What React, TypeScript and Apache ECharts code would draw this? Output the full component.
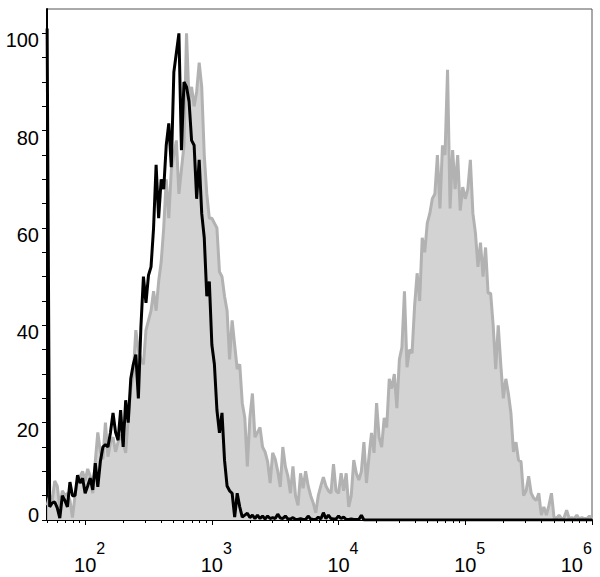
import React, { useEffect, useRef } from "react";
import * as echarts from "echarts";

// Histogram bins on a log10 channel axis
const BIN_START = 1.7; // log10 of the first bin
const BIN_STEP = 0.02; // decades per bin
const X_MIN = Math.log10(50);
const X_MAX = 6;

const DECADE_TICKS = [2, 3, 4, 5, 6];
const Y_LABELS = [0, 20, 40, 60, 80, 100];
const Y_TICKS = [0, 5, 10, 15, 20, 25, 30, 35, 40, 45, 50, 55, 60, 65, 70, 75, 80, 85, 90, 95, 100];

// gray filled histogram (% of max)
const grayCounts = [
  3, 5, 4, 8, 7, 2.5, 6, 5, 5.5, 4,
  0.5, 5, 8, 9, 10, 8, 10.5, 9, 5.5, 12,
  18, 14, 12.5, 20, 13, 16, 17, 14, 16, 17.5,
  16, 13.8, 21, 27, 30, 39, 35, 33, 32, 39,
  41, 43, 47, 43, 49, 53, 60, 70, 62, 72,
  75, 78, 67, 72, 77, 100, 86, 89, 85, 88,
  94, 89, 75, 67, 62, 62, 61, 60, 51, 50,
  46, 43, 33, 41, 36, 31, 32, 24, 21, 11,
  21, 26, 17, 18, 19, 15, 14, 12, 7.6, 13.8,
  12.5, 10, 6.8, 15, 11, 9, 5.5, 11, 5, 3,
  9.6, 6.5, 10, 7, 5, 3.5, 1.5, 5, 7, 8.8,
  7, 6, 5.5, 11.5, 6, 5.5, 9.6, 6, 9.6, 2.7,
  5, 12.3, 9.6, 8.2, 10, 16, 7.6, 13, 17.9, 13.8,
  24, 17, 15, 21, 19, 29, 27, 30, 23, 33,
  35.5, 47, 31.4, 35, 34.3, 44, 50.7, 45, 58, 55,
  61, 63, 66, 67, 75, 64, 77, 75, 92.5, 64,
  76, 68, 75, 63.6, 68.4, 66, 68, 74, 63, 59,
  52, 57, 50, 56, 46.6, 46.6, 40, 31, 40, 32,
  25, 29, 26, 22, 14, 16, 12.3, 12, 5, 6,
  9, 5.5, 4.5, 4, 5.5, 1, 2.7, 1, 3, 5.5,
  0.6, 0.3, 1, 0.3, 0.5, 2, 0.3, 0.5, 0.3, 1,
  0.2, 0.5, 0.3, 0.3, 0.8, 0.3,
];

// black outline histogram (% of max)
const blackCounts = [
  101, 2.7, 3.5, 3.7, 2.5, 0.4, 5, 4, 2.7, 7.8,
  5, 5, 9.2, 7.6, 8.6, 5.5, 7, 8.6, 6.2, 11.7,
  6.8, 12, 15, 15.5, 15, 18, 22, 18, 16.4, 22.6,
  15, 24.6, 20, 29, 32, 34, 25, 39.6, 50, 44.6,
  50.3, 52, 60, 73, 62, 70, 68, 77, 81.5, 72.5,
  92, 96, 100, 76, 90, 89, 86, 78, 77, 66,
  74, 63, 58, 46, 49, 36, 32, 22.6, 17.9, 22,
  12.3, 7, 6, 5.5, 0.6, 5.5, 2.7, 0.6, 1, 1.4,
  0.5, 1, 0.3, 1, 0.3, 0.8, 0.2, 0.8, 0.3, 0.5,
  0.3, 1.2, 0.4, 0.3, 0.8, 0.2, 0.2, 0.5, 0.1, 0.1,
  0.3, 0.1, 0.1, 0.8, 0.2, 0.1, 0.1, 0.6, 0.2, 1.5,
  0.3, 1, 0.3, 0.2, 0.2, 0.8, 0.3, 0.6, 0.1, 0.1,
  0.2, 0.1, 0.1, 0.1, 1, 0, 0, 0, 0, 0,
  0, 0, 0, 0, 0, 0, 0, 0, 0, 0,
  0, 0, 0, 0, 0, 0, 0, 0, 0, 0,
  0, 0, 0, 0, 0, 0, 0, 0, 0, 0,
  0, 0, 0, 0, 0, 0, 0, 0, 0, 0,
  0, 0, 0, 0, 0, 0, 0, 0, 0, 0,
  0, 0, 0, 0, 0, 0, 0, 0, 0, 0,
  0, 0, 0, 0, 0, 0, 0, 0, 0, 0,
  0, 0, 0, 0, 0, 0, 0, 0, 0, 0,
  0, 0, 0, 0, 0, 0,
];

const FONT = "'Liberation Sans', Arial, sans-serif";

function minorTicks(): number[] {
  const out: number[] = [];
  for (let d = 1; d <= 5; d++) {
    for (let k = 2; k <= 9; k++) {
      const v = Math.log10(k * Math.pow(10, d));
      if (v >= X_MIN - 1e-9 && v <= X_MAX) out.push(v);
    }
  }
  return out;
}

const toPoints = (arr: number[]) => arr.map((c, i) => [BIN_START + i * BIN_STEP, c]);

export default function App() {
  const ref = useRef<HTMLDivElement>(null);
  useEffect(() => {
    if (!ref.current) return;
    const chart = echarts.init(ref.current, null, { renderer: "svg" });
    const option: any = {
      animation: false,
      backgroundColor: "#fff",
      grid: {
        left: 47,
        right: 8,
        top: 9,
        bottom: 57,
        show: true,
        borderColor: "#555",
        borderWidth: 1,
        containLabel: false,
        outerBoundsMode: "none",
      },
      xAxis: [
        {
          type: "value",
          min: X_MIN,
          max: X_MAX,
          position: "bottom",
          axisLine: { show: true, onZero: false, lineStyle: { color: "#000", width: 2 } },
          axisTick: { show: true, length: 5, customValues: DECADE_TICKS, lineStyle: { color: "#000", width: 1 } },
          axisLabel: {
            customValues: DECADE_TICKS,
            margin: 21,
            color: "#000",
            fontFamily: FONT,
            verticalAlign: "top",
            alignMaxLabel: "right",
            formatter: (v: number) => `{a|}{s|${Math.round(v)}}\n{c|}{b|10}{d|}`,
            rich: {
              a: { width: 31, height: 14, lineHeight: 14 },
              s: { fontSize: 16, lineHeight: 14, fontFamily: FONT, color: "#000" },
              c: { width: 9, height: 20, lineHeight: 20 },
              d: { width: 9, height: 20, lineHeight: 20 },
              b: { fontSize: 20, lineHeight: 20, fontFamily: FONT, color: "#000" },
            },
          },
          splitLine: { show: false },
        },
        {
          type: "value",
          min: X_MIN,
          max: X_MAX,
          position: "bottom",
          axisLine: { show: false, onZero: false },
          axisTick: { show: true, length: 3, customValues: minorTicks(), lineStyle: { color: "#000", width: 1 } },
          axisLabel: { show: false },
          splitLine: { show: false },
        },
      ],
      yAxis: {
        type: "value",
        min: 0,
        max: 105,
        axisLine: { show: true, onZero: false, lineStyle: { color: "#000", width: 2 } },
        axisTick: { show: true, length: 5, customValues: Y_TICKS, lineStyle: { color: "#000", width: 1 } },
        axisLabel: {
          customValues: Y_LABELS,
          margin: 8,
          color: "#000",
          fontFamily: FONT,
          fontSize: 20,
          formatter: (v: number) => (v === 0 ? `{z|0}` : `{n|${v}}`),
          rich: {
            n: { fontSize: 20, fontFamily: FONT, color: "#000", padding: [14, 0, 0, 0] },
            z: { fontSize: 20, fontFamily: FONT, color: "#000", padding: [0, 0, 10, 0] },
          },
        },
        splitLine: { show: false },
      },
      series: [
        {
          name: "stained",
          type: "line",
          xAxisIndex: 0,
          data: toPoints(grayCounts),
          symbol: "none",
          lineStyle: { color: "#b2b2b2", width: 3 },
          areaStyle: { color: "#d3d3d3", opacity: 1 },
          z: 2,
        },
        {
          name: "control",
          type: "line",
          xAxisIndex: 0,
          data: toPoints(blackCounts),
          symbol: "none",
          lineStyle: { color: "#000", width: 3 },
          z: 3,
        },
      ],
    };
    chart.setOption(option);
    return () => chart.dispose();
  }, []);
  return (
    <div
      ref={ref}
      style={{ position: "absolute", left: 0, top: 0, width: 600, height: 577 }}
    />
  );
}
